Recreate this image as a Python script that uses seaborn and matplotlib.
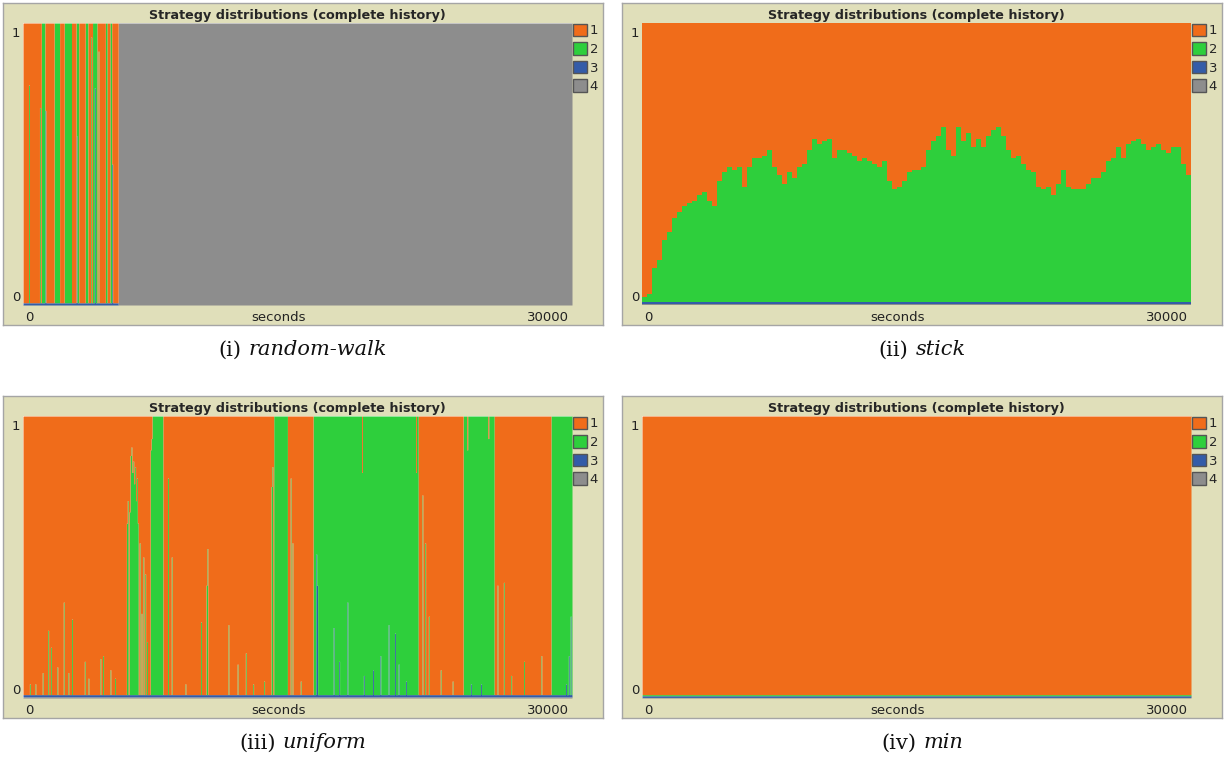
import matplotlib
matplotlib.use("Agg")
import matplotlib.pyplot as plt
import numpy as np
import pandas as pd
import seaborn as sns
from matplotlib.patches import Patch

sns.set_theme(style="white")
plt.rcParams["font.family"] = ["DejaVu Sans"]

STRATEGIES = ["1", "2", "3", "4"]
COLORS = ["#F06C1A", "#2ECF3C", "#345CA8", "#8D8D8D"]
BEIGE = "#E0DFBA"
T_MAX = 30000

# (i) random-walk: runs of the dominant strategy, then everybody on 4
RW_EDGES = [0, 985, 1204, 1697, 2025, 2244, 2628, 2902, 3066, 3394, 3558,
            3777, 4051, 4489, 4599, 4763, 4872, 5200, 30000]
RW_WINNER = [1, 2, 1, 2, 1, 2, 1, 2, 1, 2, 1, 2, 1, 2, 1, 2, 1, 4]
RW_FLOOR = [0.0, 0.0, 0.008, 0.0]
RW_SPIKE_T = [328, 930, 1237, 2934, 3722, 3941, 4106, 4850]
RW_SPIKE_LAYER = [2, 2, 3, 3, 2, 3, 2, 3]
RW_SPIKE_TOP = [0.78, 0.70, 0.69, 0.60, 0.95, 0.77, 0.90, 0.50]

# (ii) stick: top of the green layer, sampled every 30000/110 s
STICK_GREEN_TOP = [
    0.03, 0.04, 0.13, 0.16, 0.23, 0.26, 0.31, 0.33, 0.35, 0.36,
    0.37, 0.39, 0.40, 0.37, 0.35, 0.44, 0.47, 0.49, 0.48, 0.49,
    0.42, 0.49, 0.52, 0.52, 0.53, 0.55, 0.49, 0.46, 0.43, 0.47,
    0.45, 0.49, 0.50, 0.55, 0.59, 0.57, 0.58, 0.59, 0.52, 0.55,
    0.55, 0.54, 0.53, 0.51, 0.52, 0.51, 0.50, 0.49, 0.51, 0.44,
    0.41, 0.42, 0.44, 0.47, 0.48, 0.48, 0.49, 0.55, 0.58,
    0.60, 0.63, 0.55, 0.53, 0.63, 0.58, 0.61, 0.56, 0.59, 0.56,
    0.60, 0.62, 0.63, 0.60, 0.55, 0.52, 0.53, 0.50, 0.48, 0.47,
    0.42, 0.41, 0.42, 0.39, 0.43, 0.48, 0.42, 0.41, 0.41, 0.41,
    0.43, 0.45, 0.45, 0.47, 0.51, 0.52, 0.56, 0.52, 0.57, 0.58,
    0.59, 0.57, 0.55, 0.56, 0.57, 0.55, 0.54, 0.56, 0.56, 0.50,
    0.46,
]
STICK_BLUE = 0.008
STICK_GRAY = 0.004

# (iii) uniform
UNI_EDGES = [0, 5693, 6405, 7061, 7664, 13700, 14451, 15875, 21622, 24031,
             25728, 28848, 30000]
UNI_WINNER = [1, 1, 1, 2, 1, 2, 1, 2, 1, 2, 1, 2]
UNI_FLOOR = [0.0, 0.0, 0.008, 0.004]
UNI_SPIKE_T = [
    383, 657, 1095, 1369, 1533, 1861, 2244, 2463, 2682, 3394, 3558, 4215, 4379,
    4762, 5036,
    5693, 5748, 5802, 5857, 5912, 5967, 6022, 6077, 6131, 6186, 6241, 6296,
    6350, 6460, 6570, 6679, 6789, 6952, 7006,
    7937, 8101, 8868, 9744, 10017, 10072, 11222, 11714, 12152, 12590, 13192,
    13576, 13640,
    14616, 14725, 15163,
    16039, 16094, 16969, 17298, 17736, 18612, 19104, 19542, 19980, 20309,
    20528, 20911, 18502, 21458,
    21841, 21950, 22170, 22827, 23483,
    24250, 25400, 24469, 25016,
    25947, 26275, 26658, 27370, 28301,
    29669, 29833, 29943,
]
UNI_SPIKE_LAYER = (
    [2] * 15 + [2] * 19 + [2] * 13 + [2] * 3
    + [3] * 12 + [2, 2]
    + [2] * 5 + [2, 2, 3, 3] + [2] * 5 + [3, 3, 3]
)
UNI_SPIKE_TOP = [
    0.05, 0.05, 0.09, 0.24, 0.18, 0.11, 0.34, 0.09, 0.28, 0.13, 0.07, 0.14,
    0.15, 0.10, 0.07,
    0.62, 0.70, 0.66, 0.86, 0.89, 0.80, 0.84, 0.76, 0.82, 0.70, 0.78, 0.62,
    0.55, 0.30, 0.50, 0.44, 0.20, 0.88, 0.92,
    0.78, 0.50, 0.05, 0.27, 0.40, 0.53, 0.26, 0.12, 0.16, 0.05, 0.06,
    0.75, 0.82,
    0.78, 0.55, 0.06,
    0.51, 0.40, 0.25, 0.13, 0.34, 0.08, 0.10, 0.15, 0.26, 0.23, 0.12, 0.06,
    0.80, 0.80,
    0.72, 0.55, 0.29, 0.10, 0.06,
    0.88, 0.92, 0.05, 0.05,
    0.40, 0.41, 0.08, 0.13, 0.15,
    0.05, 0.15, 0.29,
]

# (iv) min: orange the whole run, thin noise strip at the bottom
MIN_EDGES = [0, 30000]
MIN_WINNER = [1]
MIN_FLOOR = [0.0, 0.004, 0.006, 0.002]

W, H = 1225, 759
BOX_W, BOX_H = 600, 322
PLOT_DX, PLOT_DY, PLOT_W, PLOT_H = 20, 20, 549, 282


def build_shares(edges, winners, floor, spike_t, spike_layer, spike_top, n_bins):
    binwidth = T_MAX / n_bins
    centers = (np.arange(n_bins) + 0.5) * binwidth
    seg = np.searchsorted(edges, centers, side="right") - 1
    shares = np.zeros((n_bins, 4))
    for i, k in enumerate(seg):
        w = winners[k]
        if w != 4:
            shares[i, w:] = floor[w:]
        shares[i, w - 1] = 1 - shares[i].sum()
    # a spike sets the top of one layer; the gap goes to the layer just above
    for t, layer, top in zip(spike_t, spike_layer, spike_top):
        i = int(t // binwidth)
        w = winners[seg[i]]
        below = shares[i, layer:].sum()
        shares[i, :layer] = 0
        shares[i, layer - 1] = top - below
        above = w if w < layer else layer - 1
        shares[i, above - 1] = 1 - top
    return shares


def stick_shares():
    top = np.array(STICK_GREEN_TOP)
    n = len(top)
    return np.column_stack([1 - top, top - STICK_BLUE - STICK_GRAY,
                            np.full(n, STICK_BLUE), np.full(n, STICK_GRAY)])


def to_long(shares):
    n_bins = len(shares)
    df = pd.DataFrame(shares, columns=STRATEGIES)
    df["t"] = (np.arange(n_bins) + 0.5) * T_MAX / n_bins
    return df.melt(id_vars="t", var_name="strategy", value_name="share")


def fig_rect(x, y, w, h):
    return [x / W, 1 - (y + h) / H, w / W, h / H]


def draw_panel(fig, left, top, shares, tag, name):
    box = fig.add_axes(fig_rect(left, top, BOX_W, BOX_H))
    box.set_facecolor(BEIGE)
    box.set_xticks([])
    box.set_yticks([])
    for s in box.spines.values():
        s.set_color("#A5A5A5")
        s.set_linewidth(1)

    ax = fig.add_axes(fig_rect(left + PLOT_DX, top + PLOT_DY, PLOT_W, PLOT_H))
    sns.histplot(data=to_long(shares), x="t", hue="strategy", weights="share",
                 bins=len(shares), binrange=(0, T_MAX), multiple="fill", element="step",
                 hue_order=STRATEGIES, palette=dict(zip(STRATEGIES, COLORS)),
                 alpha=1, linewidth=0, legend=False, ax=ax)
    ax.set_xlim(0, T_MAX)
    ax.set_ylim(0, 1)
    ax.set(xlabel="", ylabel="", xticks=[], yticks=[])
    for s in ax.spines.values():
        s.set_visible(False)

    ax.set_title("Strategy distributions (complete history)", fontsize=9.2,
                 fontweight="bold", pad=3)
    tk = dict(fontsize=9.5, color="#222222", transform=ax.transAxes)
    ax.text(-0.005, 0.985, "1", ha="right", va="top", **tk)
    ax.text(-0.005, 0.005, "0", ha="right", va="bottom", **tk)
    ax.text(0.003, -0.02, "0", ha="left", va="top", **tk)
    ax.text(0.465, -0.02, "seconds", ha="center", va="top", **tk)
    ax.text(0.995, -0.02, "30000", ha="right", va="top", **tk)

    handles = [Patch(facecolor=c, edgecolor="#555555", linewidth=1, label=s)
               for s, c in zip(STRATEGIES, COLORS)]
    ax.legend(handles=handles, loc="upper left", bbox_to_anchor=(1.0, 1.0),
              frameon=False, fontsize=9.5, handlelength=1.1, handleheight=1.1,
              handletextpad=0.2, labelspacing=0.36, borderaxespad=0.05, borderpad=0.0)

    # caption: roman tag, italic name, centred under the panel
    cy = 1 - (top + 347) / H
    cap = dict(fontsize=15, family="DejaVu Serif", va="center", color="#111111")
    t1 = fig.text(0, cy, f"({tag})", **cap)
    t2 = fig.text(0, cy, name, style="italic", **cap)
    r = fig.canvas.get_renderer()
    w1 = t1.get_window_extent(r).width
    w2 = t2.get_window_extent(r).width
    gap = 7
    x0 = left + BOX_W / 2 - (w1 + gap + w2) / 2
    t1.set_x(x0 / W)
    t2.set_x((x0 + w1 + gap) / W)


fig = plt.figure(figsize=(W / 100, H / 100), dpi=100)

panels = [
    (3, 3, build_shares(RW_EDGES, RW_WINNER, RW_FLOOR, RW_SPIKE_T, RW_SPIKE_LAYER,
                        RW_SPIKE_TOP, 600), "i", "random-walk"),
    (622, 3, stick_shares(), "ii", "stick"),
    (3, 396, build_shares(UNI_EDGES, UNI_WINNER, UNI_FLOOR, UNI_SPIKE_T, UNI_SPIKE_LAYER,
                          UNI_SPIKE_TOP, 600), "iii", "uniform"),
    (622, 396, build_shares(MIN_EDGES, MIN_WINNER, MIN_FLOOR, [], [], [], 600), "iv", "min"),
]
for left, top, shares, tag, name in panels:
    draw_panel(fig, left, top, shares, tag, name)

fig.savefig("out.png", dpi=100, facecolor="white")
